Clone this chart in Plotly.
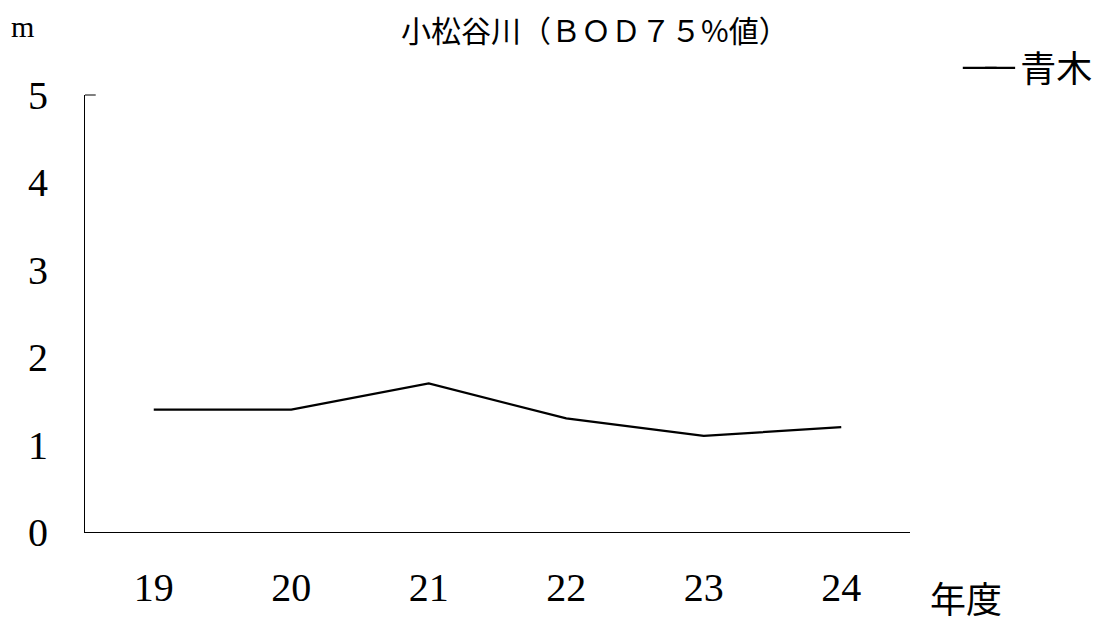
import plotly.graph_objects as go

years = ["19", "20", "21", "22", "23", "24"]
aoki = [1.4, 1.4, 1.7, 1.3, 1.1, 1.2]
y_ticks = [0, 1, 2, 3, 4, 5]

serif = "Liberation Serif, Times New Roman, serif"
cjk = "Noto Sans CJK JP, sans-serif"

fig = go.Figure()
fig.add_trace(go.Scatter(
    x=years, y=aoki, mode="lines", name="青木",
    line=dict(color="black", width=2.3),
))

fig.update_layout(
    width=1109, height=625,
    margin=dict(l=77, r=207, t=87, b=101),
    paper_bgcolor="white", plot_bgcolor="white",
    showlegend=True,
    legend=dict(
        x=1.085, y=1.062, xanchor="left", yanchor="middle",
        font=dict(family=cjk, size=36, color="black"),
        bgcolor="rgba(0,0,0,0)", itemwidth=30,
    ),
    title=dict(
        text="小松谷川（ＢＯＤ７５%値）",
        xref="paper", x=0.618, xanchor="center",
        yref="container", y=0.962, yanchor="middle",
        font=dict(family=cjk, size=30, color="black"),
    ),
    xaxis=dict(
        type="category", range=[-0.5, 5.5],
        showline=True, linecolor="black", linewidth=1,
        showgrid=False, zeroline=False, ticks="",
        tickfont=dict(family=serif, size=40, color="black"),
        ticklabelstandoff=20,
    ),
    yaxis=dict(
        range=[0, 5], tickvals=y_ticks,
        showline=True, linecolor="black", linewidth=1,
        showgrid=False, zeroline=False, ticks="",
        tickfont=dict(family=serif, size=40, color="black"),
        ticklabelstandoff=28,
    ),
    annotations=[
        dict(text="m", xref="paper", yref="paper", x=-0.076, y=1.156,
             xanchor="center", yanchor="middle", showarrow=False,
             font=dict(family=serif, size=30, color="black")),
        dict(text="年度", xref="paper", yref="paper", x=1.022, y=-0.148,
             xanchor="left", yanchor="middle", showarrow=False,
             font=dict(family=cjk, size=36, color="black")),
    ],
    shapes=[
        dict(type="line", xref="paper", yref="paper", x0=0, x1=0.013,
             y0=1, y1=1, line=dict(color="black", width=1)),
        dict(type="line", xref="paper", yref="paper", x0=1.064, x1=1.105,
             y0=1.062, y1=1.062, line=dict(color="black", width=2.3)),
    ],
)

fig.write_html("out.html")
